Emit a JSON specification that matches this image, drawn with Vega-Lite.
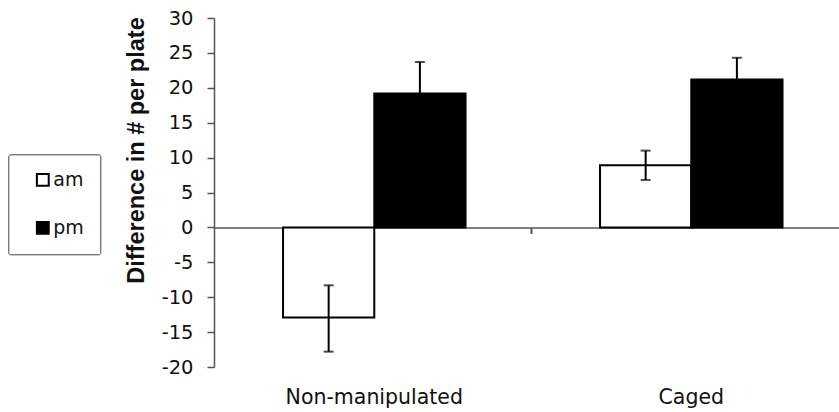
{
  "$schema": "https://vega.github.io/schema/vega-lite/v6.json",
  "width": 625,
  "height": 349,
  "autosize": "none",
  "padding": {"left": 214, "top": 18, "right": 0, "bottom": 45},
  "background": "white",
  "config": {
    "view": {"stroke": null},
    "axisY": {
      "grid": false,
      "labelOverlap": false,
      "domainColor": "#555",
      "domainWidth": 1.5,
      "tickColor": "#555",
      "tickWidth": 1.5,
      "tickSize": 7,
      "labelPadding": 14,
      "labelFont": "DejaVu Sans",
      "labelFontSize": 19.5,
      "labelColor": "#111",
      "titleFont": "Liberation Sans",
      "titleFontSize": 23.5,
      "titleFontWeight": "bold",
      "titleColor": "#111",
      "titleX": -70.7,
      "titleY": 132,
      "titleBaseline": "alphabetic",
      "titleAlign": "center",
      "titleAngle": -90
    }
  },
  "data": {
    "values": [
      {"group": "Non-manipulated", "time": "am", "mean": -12.9, "lo": -17.8, "hi": -8.3},
      {"group": "Non-manipulated", "time": "pm", "mean": 19.2, "lo": 14.7, "hi": 23.7},
      {"group": "Caged", "time": "am", "mean": 8.9, "lo": 6.8, "hi": 11.0},
      {"group": "Caged", "time": "pm", "mean": 21.2, "lo": 18.1, "hi": 24.3}
    ]
  },
  "encoding": {
    "x": {
      "field": "group",
      "type": "nominal",
      "sort": ["Non-manipulated", "Caged"],
      "scale": {"paddingInner": 0.4243, "paddingOuter": 0.198, "align": 0.55, "round": false},
      "axis": {
        "orient": "bottom",
        "offset": -139.6,
        "bandPosition": 1.364,
        "labelOffset": 0,
        "domainColor": "#555",
        "domainWidth": 1.5,
        "tickColor": "#555",
        "tickSize": 6,
        "tickWidth": 2,
        "labelPadding": 170,
        "labelBaseline": "alphabetic",
        "labelFont": "DejaVu Sans",
        "labelFontSize": 20.5,
        "labelColor": "#111",
        "labelAngle": 0,
        "labelOverlap": false,
        "labelFlush": false,
        "labelBound": false,
        "title": null
      }
    },
    "xOffset": {
      "field": "time",
      "type": "nominal",
      "scale": {"domain": ["am", "pm"], "paddingInner": 0, "paddingOuter": 0}
    }
  },
  "layer": [
    {
      "mark": {"type": "bar", "stroke": "black", "strokeWidth": 2},
      "encoding": {
        "y": {
          "field": "mean",
          "type": "quantitative",
          "scale": {"domain": [-20, 30], "nice": false, "zero": false},
          "axis": {
            "values": [-20, -15, -10, -5, 0, 5, 10, 15, 20, 25, 30],
            "labelExpr": "'' + datum.value",
            "title": "Difference in # per plate"
          }
        },
        "fill": {
          "field": "time",
          "type": "nominal",
          "scale": {"domain": ["am", "pm"], "range": ["white", "black"]},
          "legend": {
            "orient": "none",
            "legendX": -205.7,
            "legendY": 136.3,
            "title": null,
            "symbolType": "square",
            "symbolSize": 140,
            "symbolStrokeColor": "black",
            "symbolStrokeWidth": 2,
            "symbolOffset": 9,
            "labelOffset": 1,
            "labelFont": "DejaVu Sans",
            "labelFontSize": 19,
            "labelColor": "#111",
            "rowPadding": 27,
            "padding": 16,
            "strokeColor": "#444",
            "cornerRadius": 2
          }
        }
      }
    },
    {
      "mark": {"type": "rule", "color": "black", "strokeWidth": 2},
      "encoding": {
        "y": {
          "field": "lo",
          "type": "quantitative",
          "axis": {
            "values": [-20, -15, -10, -5, 0, 5, 10, 15, 20, 25, 30],
            "labelExpr": "'' + datum.value",
            "title": "Difference in # per plate"
          }
        },
        "y2": {"field": "hi"}
      }
    },
    {
      "mark": {"type": "tick", "color": "black", "thickness": 2, "size": 10},
      "encoding": {
        "y": {
          "field": "hi",
          "type": "quantitative",
          "axis": {
            "values": [-20, -15, -10, -5, 0, 5, 10, 15, 20, 25, 30],
            "labelExpr": "'' + datum.value",
            "title": "Difference in # per plate"
          }
        }
      }
    },
    {
      "mark": {"type": "tick", "color": "black", "thickness": 2, "size": 10},
      "encoding": {
        "y": {
          "field": "lo",
          "type": "quantitative",
          "axis": {
            "values": [-20, -15, -10, -5, 0, 5, 10, 15, 20, 25, 30],
            "labelExpr": "'' + datum.value",
            "title": "Difference in # per plate"
          }
        }
      }
    }
  ]
}
